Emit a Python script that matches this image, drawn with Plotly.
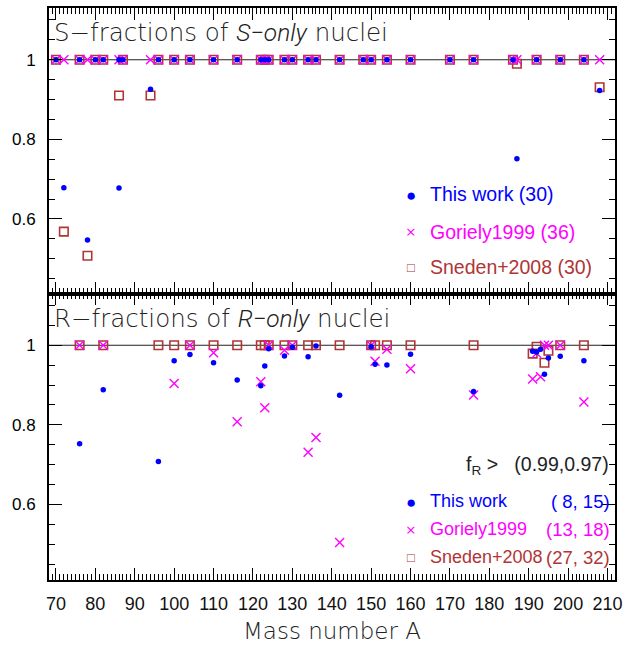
import plotly.graph_objects as go

# ---------------- data: S-fractions of S-only nuclei (top panel) ----------------
s_mass_this = [70, 72, 76, 78, 80, 82, 86, 86, 87, 94, 96, 100, 104, 110, 116, 122, 123, 124,
               128, 130, 134, 136, 142, 148, 150, 154, 160, 170, 176, 186, 187, 192, 198, 204, 208]
s_frac_this = [1, 0.678, 1, 0.547, 1, 1, 0.6775, 1, 1, 0.926, 1, 1, 1, 1, 1, 1, 1, 1,
               1, 1, 1, 1, 1, 1, 1, 1, 1, 1, 1, 1, 0.751, 1, 1, 1, 0.9225]

s_mass_gor = [70, 72, 76, 78, 80, 82, 86, 87, 94, 96, 100, 104, 110, 116, 122, 123, 124,
              128, 130, 134, 136, 142, 148, 150, 154, 160, 170, 176, 186, 187, 192, 198, 204, 208]
s_frac_gor = [1, 1, 1, 1, 1, 1, 1, 1, 1, 1, 1, 1, 1, 1, 1, 1, 1,
              1, 1, 1, 1, 1, 1, 1, 1, 1, 1, 1, 1, 1, 1, 1, 1, 1]

s_mass_sne = [70, 72, 76, 78, 80, 82, 86, 87, 94, 96, 100, 104, 110, 116, 122, 123, 124,
              128, 130, 134, 136, 142, 148, 150, 154, 160, 170, 176, 186, 187, 192, 198, 204, 208]
s_frac_sne = [1, 0.568, 1, 0.5075, 1, 1, 0.91, 1, 0.91, 1, 1, 1, 1, 1, 1, 1, 1,
              1, 1, 1, 1, 1, 1, 1, 1, 1, 1, 1, 1, 0.99, 1, 1, 1, 0.931]

# ---------------- data: R-fractions of R-only nuclei (bottom panel) ----------------
r_mass_this = [76, 82, 96, 100, 104, 110, 116, 122, 123, 124, 128, 130, 134, 136, 142, 150, 151,
               154, 160, 176, 191, 192, 193, 194, 195, 198, 204]
r_frac_this = [0.7525, 0.888, 0.708, 0.961, 0.977, 0.956, 0.9125, 0.898, 0.9475, 0.991, 0.973,
               0.995, 0.971, 0.998, 0.874, 0.996, 0.952, 0.95, 0.9775, 0.884, 0.985, 0.983,
               0.99, 0.927, 0.968, 0.9725, 0.961]

r_mass_gor = [76, 82, 100, 104, 110, 116, 122, 123, 124, 128, 130, 134, 136, 142, 150, 151,
              154, 160, 176, 191, 192, 193, 194, 195, 198, 204]
r_frac_gor = [1, 1, 0.904, 1, 0.981, 0.808, 0.908, 0.843, 1, 0.9875, 1, 0.731, 0.768, 0.504,
              1, 0.96, 0.99, 0.941, 0.875, 0.915, 0.98, 0.921, 1, 1, 1, 0.8575]

r_mass_sne = [76, 82, 96, 100, 104, 110, 116, 122, 123, 124, 128, 130, 134, 136, 142, 150, 151,
              154, 160, 176, 191, 192, 194, 195, 198, 204]
r_frac_sne = [1, 1, 1, 1, 1, 1, 1, 1, 1, 1, 1, 1, 1, 1, 1, 1, 1,
              1, 1, 1, 0.979, 0.996, 0.956, 0.986, 1, 1]

top_legend = ["This work (30)", "Goriely1999 (36)", "Sneden+2008 (30)"]
bot_legend_names = ["This work", "Goriely1999", "Sneden+2008"]
bot_legend_counts = ["(\u00a08, 15)", "(13, 18)", "(27, 32)"]
threshold_label = "f<sub>R</sub> >\u00a0\u00a0\u00a0(0.99,0.97)"
x_tick_vals = [70, 80, 90, 100, 110, 120, 130, 140, 150, 160, 170, 180, 190, 200, 210]

# ---------------- styling ----------------
BLUE = "#0000ff"
MAG = "#ff00ff"
BROWN = "#b03535"
THIN = "DejaVu Sans"
LEG = "Liberation Sans, Arial, sans-serif"
ITAL = "<span style=\"font-family:Roboto;font-weight:300;font-style:italic\">{}</span>"

fig = go.Figure()

def add_panel(yref, mt, ft, mg, fg, ms, fs):
    xa = "x" if yref == "y" else "x2"
    fig.add_trace(go.Scatter(x=ms, y=fs, mode="markers", xaxis=xa, yaxis=yref,
                             showlegend=False, hoverinfo="skip",
                             marker=dict(symbol="square-open", size=8.5, color=BROWN,
                                         line=dict(width=1.6, color=BROWN))))
    fig.add_trace(go.Scatter(x=mg, y=fg, mode="markers", xaxis=xa, yaxis=yref,
                             showlegend=False, hoverinfo="skip",
                             marker=dict(symbol="x-thin", size=9, color=MAG,
                                         line=dict(width=1.4, color=MAG))))
    fig.add_trace(go.Scatter(x=mt, y=ft, mode="markers", xaxis=xa, yaxis=yref,
                             showlegend=False, hoverinfo="skip",
                             marker=dict(symbol="circle", size=5.5, color=BLUE,
                                         line=dict(width=0))))

add_panel("y2", s_mass_this, s_frac_this, s_mass_gor, s_frac_gor, s_mass_sne, s_frac_sne)
add_panel("y", r_mass_this, r_frac_this, r_mass_gor, r_frac_gor, r_mass_sne, r_frac_sne)

# horizontal reference lines at fraction = 1
for yr in ["y", "y2"]:
    fig.add_shape(type="line", xref="x domain", yref=yr, x0=0, x1=1, y0=1, y1=1,
                  line=dict(color="#222222", width=1.2), layer="below")

xr = [68.23, 211.9]
tick_common = dict(ticks="inside", tickcolor="black", tickwidth=1.2, mirror="allticks",
                   showline=True, linecolor="black", linewidth=1.8, showgrid=False,
                   zeroline=False)
x_common = dict(tick_common, range=xr, tickmode="array", tickvals=x_tick_vals, ticklen=12,
                minor=dict(dtick=1, tick0=70, ticklen=6, tickwidth=1, tickcolor="black",
                           ticks="inside"))
y_common = dict(tick_common, tick0=0, dtick=0.2, ticklen=13,
                minor=dict(dtick=0.05, tick0=0, ticklen=6.5, tickwidth=1, tickcolor="black",
                           ticks="inside"),
                tickfont=dict(family="Liberation Sans, Arial, sans-serif", size=17, color="black"),
                ticklabelstandoff=8)

split = 288 / 575
fig.update_layout(
    width=629, height=646,
    margin=dict(l=49, r=11, t=6, b=65),
    paper_bgcolor="white", plot_bgcolor="white",
    showlegend=False,
    xaxis=dict(x_common, anchor="y", domain=[0, 1],
               tickfont=dict(family=LEG, size=18, color="#111111"),
               ticklabelstandoff=6,
               title=dict(text="Mass number A", standoff=10,
                          font=dict(family=THIN, size=23, color="#222222", weight=200))),
    xaxis2=dict(x_common, anchor="y2", matches="x", showticklabels=False, domain=[0, 1]),
    yaxis=dict(y_common, anchor="x", domain=[0, split], range=[0.41, 1.13]),
    yaxis2=dict(y_common, anchor="x2", domain=[split, 1], range=[0.4125, 1.13]),
)

# panel titles
fig.add_annotation(x=69.0, y=1.068, xref="x2", yref="y2", xanchor="left", yanchor="middle",
                   showarrow=False, text="S−fractions of " + ITAL.format("S−only") + " nuclei",
                   font=dict(family=THIN, size=24.5, color="#222222", weight=200))
fig.add_annotation(x=69.0, y=1.0675, xref="x", yref="y", xanchor="left", yanchor="middle",
                   showarrow=False, text="R−fractions of " + ITAL.format("R−only") + " nuclei",
                   font=dict(family=THIN, size=24.5, color="#222222", weight=200))

# top legend
colors = [BLUE, MAG, BROWN]
symbols = ["●", "×", "□"]
sym_sizes = [17, 17, 13]
top_rows = [0.6625, 0.568, 0.48]
for lab, col, sym, ss, yy in zip(top_legend, colors, symbols, sym_sizes, top_rows):
    fig.add_annotation(x=160.15, y=yy, xref="x2", yref="y2", showarrow=False, text=sym,
                       xanchor="center", yanchor="middle", font=dict(size=ss, color=col))
    fig.add_annotation(x=164.4, y=yy, xref="x2", yref="y2", showarrow=False, text=lab,
                       xanchor="left", yanchor="middle",
                       font=dict(family=LEG, size=19.5, color=col))

# bottom legend
fig.add_annotation(x=210.8, y=0.6975, xref="x", yref="y", showarrow=False, text=threshold_label,
                   xanchor="right", yanchor="middle",
                   font=dict(family=LEG, size=19.5, color="#222222"))
bot_rows = [0.608, 0.5375, 0.467]
for name, cnt, col, sym, ss, yy in zip(bot_legend_names, bot_legend_counts, colors, symbols,
                                       sym_sizes, bot_rows):
    fig.add_annotation(x=160.15, y=yy, xref="x", yref="y", showarrow=False, text=sym,
                       xanchor="center", yanchor="middle", font=dict(size=ss, color=col))
    fig.add_annotation(x=164.4, y=yy, xref="x", yref="y", showarrow=False, text=name,
                       xanchor="left", yanchor="middle",
                       font=dict(family=LEG, size=18, color=col))
    fig.add_annotation(x=211.2, y=yy, xref="x", yref="y", showarrow=False, text=cnt,
                       xanchor="right", yanchor="middle",
                       font=dict(family=LEG, size=18.5, color=col))

fig.write_html("out.html", config={"displayModeBar": False},
               post_script="document.body.style.margin='0';")
